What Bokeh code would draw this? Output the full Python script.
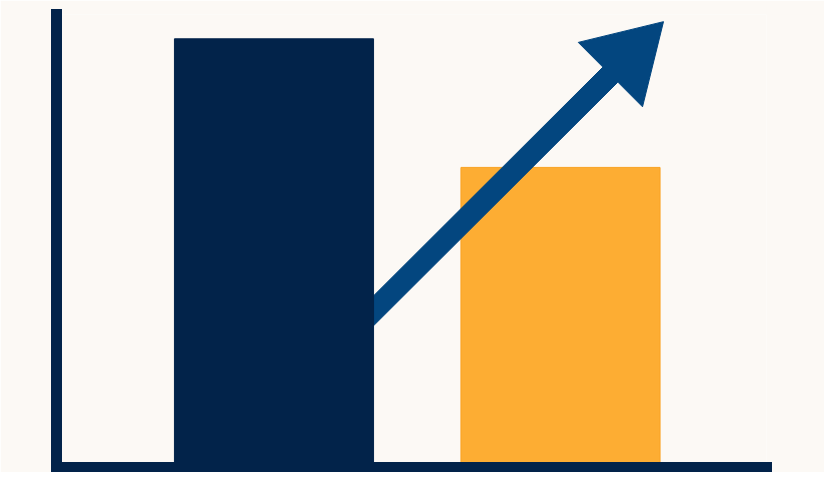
import numpy as np
from bokeh.plotting import figure
from bokeh.models import Range1d, FixedTicker
from bokeh.embed import file_html
from bokeh.resources import INLINE

# ---- data ----
categories = ["Before", "After"]
positions = [1.0, 2.0]
values = [10.0, 7.0]
bar_colors = ["#02234A", "#FDAD33"]
bar_edge_colors = ["#02234A", "#F9A324"]
bar_width = 0.695
arrow_start = (1.0, 1.34)
arrow_end = (2.3595, 10.40)
arrow_color = "#03467F"
axis_color = "#02234A"
bg_color = "#FCF9F5"

# ---- layout ----
W, H = 824, 472
ML, MR, MT, MB = 56, 58, 14, 5
FW, FH = W - ML - MR, H - MT - MB
x0, x1 = 0.24084, 2.71902
y0, y1 = 0.0, 10.567

p = figure(width=W, height=H, output_backend="svg", toolbar_location=None,
           x_range=Range1d(x0, x1), y_range=Range1d(y0, y1),
           min_border_left=ML, min_border_right=MR,
           min_border_top=MT, min_border_bottom=MB)
p.background_fill_color = bg_color
p.border_fill_color = bg_color
p.outline_line_color = None
p.xgrid.visible = False
p.ygrid.visible = False

for ax in (p.xaxis[0], p.yaxis[0]):
    ax.ticker = FixedTicker(ticks=[])
    ax.axis_line_width = 11
    ax.axis_line_color = axis_color
    ax.axis_line_cap = "square"
    ax.major_tick_line_color = None
    ax.minor_tick_line_color = None
    ax.major_label_text_font_size = "0px"
    ax.major_label_standoff = 0
    ax.major_tick_out = 0
    ax.major_tick_in = 0

# ---- arrow polygon computed in pixel space ----
sx = FW / (x1 - x0)
sy = FH / (y1 - y0)
S = np.array([arrow_start[0] * sx, arrow_start[1] * sy])
T = np.array([arrow_end[0] * sx, arrow_end[1] * sy])
d = (T - S) / np.linalg.norm(T - S)
n = np.array([-d[1], d[0]])
shaft_half = 10.6
head_len = 75.0
head_half = 45.5
B = T - d * head_len
pts = [S + n * shaft_half, B + n * shaft_half, B + n * head_half, T,
       B - n * head_half, B - n * shaft_half, S - n * shaft_half]
ax_x = [q[0] / sx for q in pts]
ax_y = [q[1] / sy for q in pts]

# draw order: second bar, arrow, first bar
p.vbar(x=[positions[1]], top=[values[1]], bottom=0, width=bar_width,
       fill_color=bar_colors[1], line_color=bar_edge_colors[1], line_width=1)
p.patch(ax_x, ax_y, fill_color=arrow_color, line_color=arrow_color, line_width=1)
p.vbar(x=[positions[0]], top=[values[0]], bottom=0, width=bar_width,
       fill_color=bar_colors[0], line_color=bar_edge_colors[0], line_width=1)

open("out.html", "w").write(file_html(p, INLINE))
